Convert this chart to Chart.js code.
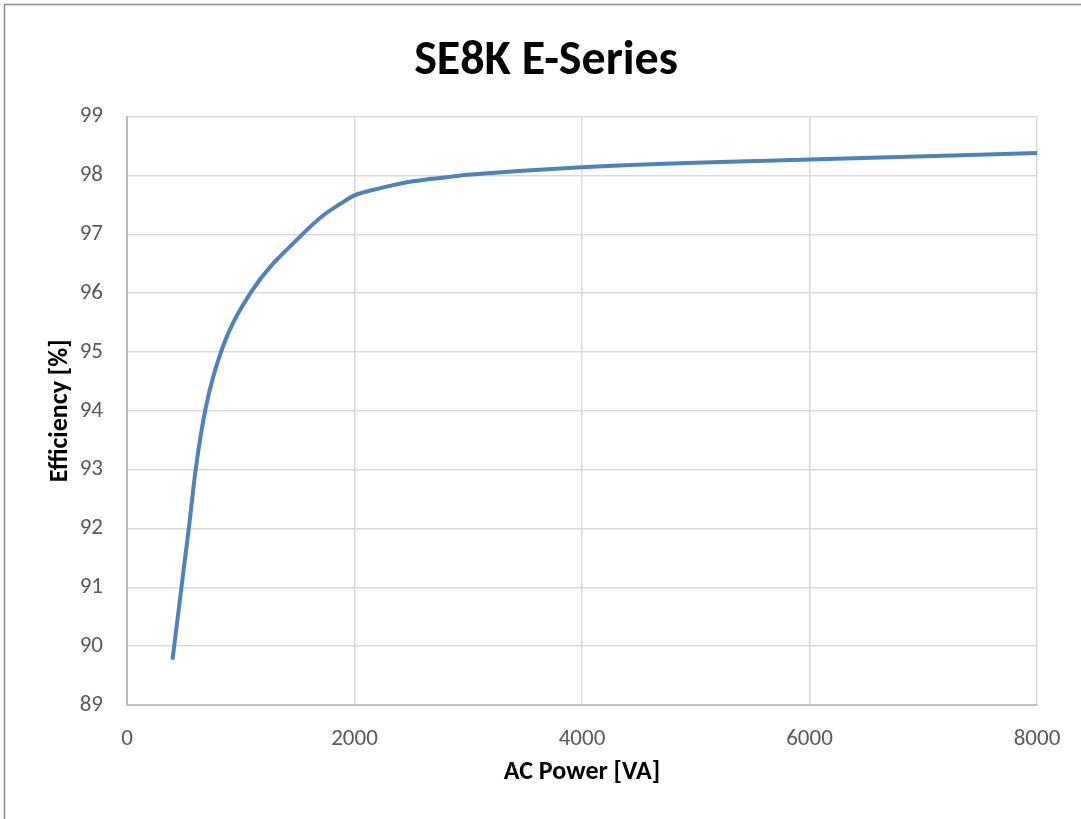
<!DOCTYPE html>
<html>
<head>
<meta charset="utf-8">
<script src="https://cdn.jsdelivr.net/npm/chart.js@4/dist/chart.umd.min.js"></script>
<style>
  html, body { margin: 0; padding: 0; background: #fff; }
  #wrap { width: 1081px; height: 819px; position: relative; }
</style>
</head>
<body>
<div id="wrap"><canvas id="chart" width="1081" height="819"></canvas></div>
<script>
// AC power [VA] vs efficiency [%]
var powerVA = [400, 480, 545, 605, 690, 830, 1095, 1548, 1724, 1870, 2000, 2221, 2514, 2807, 3000, 4000, 6000, 8000];
var efficiency = [89.77, 91.02, 92.03, 93.02, 94.03, 95.02, 96.03, 97.01, 97.32, 97.51, 97.66, 97.78, 97.90, 97.97, 98.01, 98.14, 98.27, 98.38];

var xTicks = [0, 2000, 4000, 6000, 8000];
var yTicks = [89, 90, 91, 92, 93, 94, 95, 96, 97, 98, 99];

var FONT = 'Carlito, "Liberation Sans Narrow", "Liberation Sans", sans-serif';

var points = powerVA.map(function (x, i) { return {x: x, y: efficiency[i]}; });

// white background + outer frame (right/bottom edges fall off the canvas)
var frame = {
    id: 'frame',
    beforeDraw: function (chart) {
        var ctx = chart.ctx;
        ctx.save();
        ctx.fillStyle = '#fff';
        ctx.fillRect(0, 0, chart.width, chart.height);
        ctx.strokeStyle = '#8c8c8c';
        ctx.lineWidth = 1.5;
        ctx.strokeRect(4.5, 4.5, chart.width + 20, chart.height + 20);
        ctx.restore();
    }
};

new Chart('chart', {
    type: 'line',
    data: {
        datasets: [{
            data: points,
            borderColor: '#4f81bd',
            borderWidth: 4,
            pointRadius: 0,
            fill: false,
            cubicInterpolationMode: 'monotone'
        }]
    },
    options: {
        responsive: false,
        animation: false,
        layout: {padding: {left: 55, right: 44, top: 0, bottom: 0}},
        plugins: {
            legend: {display: false},
            tooltip: {enabled: false},
            title: {
                display: true,
                text: 'SE8K E-Series',
                color: '#000',
                font: {family: FONT, size: 48, weight: 'bold'},
                padding: {top: 33, bottom: 26}
            }
        },
        scales: {
            x: {
                type: 'linear',
                min: 0,
                max: 8000,
                afterBuildTicks: function (s) { s.ticks = xTicks.map(function (v) { return {value: v}; }); },
                afterFit: function (s) { s.height = 114; },
                ticks: {
                    color: '#595959',
                    font: {family: FONT, size: 23},
                    padding: 20,
                    callback: function (v) { return String(v); }
                },
                grid: {color: '#d9d9d9', lineWidth: 1.5, drawTicks: false},
                border: {color: '#bfbfbf', width: 2},
                title: {
                    display: true,
                    text: 'AC Power [VA]',
                    color: '#000',
                    font: {family: FONT, size: 26, weight: 'bold'},
                    padding: {top: 0, bottom: 31}
                }
            },
            y: {
                min: 89,
                max: 99,
                afterBuildTicks: function (s) { s.ticks = yTicks.map(function (v) { return {value: v}; }); },
                afterFit: function (s) { s.width = 72; },
                ticks: {
                    color: '#595959',
                    font: {family: FONT, size: 23},
                    padding: 24
                },
                grid: {color: '#d9d9d9', lineWidth: 1.5, drawTicks: false},
                border: {color: '#bfbfbf', width: 2},
                title: {
                    display: true,
                    text: 'Efficiency [%]',
                    color: '#000',
                    font: {family: FONT, size: 26, weight: 'bold'},
                    padding: {top: -10, bottom: 0}
                }
            }
        }
    },
    plugins: [frame]
});
</script>
</body>
</html>
